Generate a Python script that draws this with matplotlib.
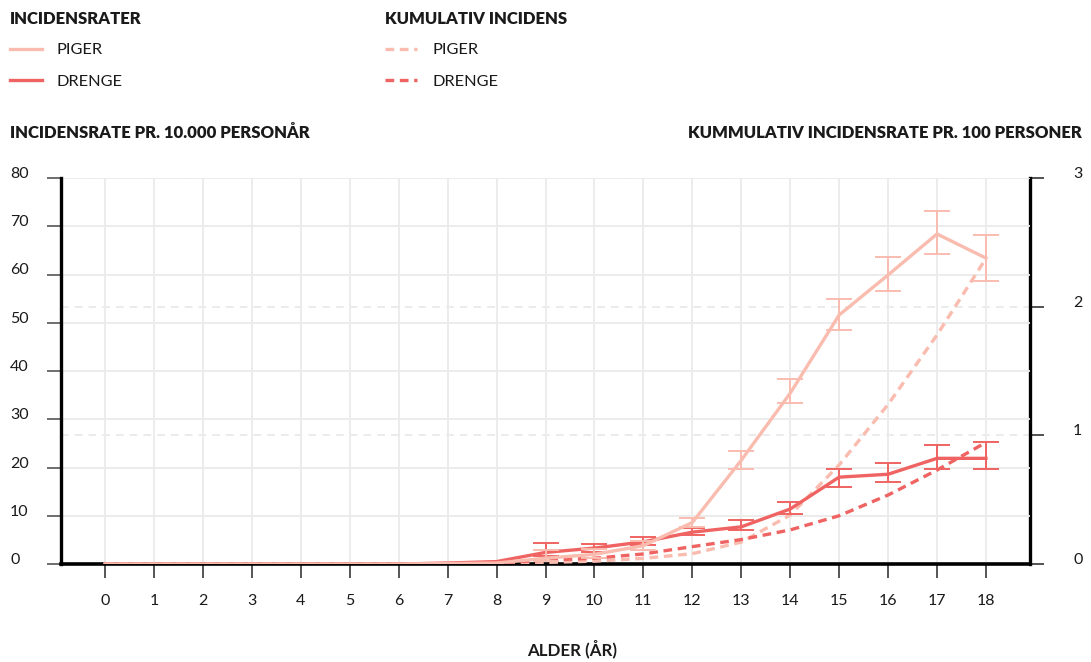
import matplotlib
matplotlib.use("Agg")
import matplotlib.pyplot as plt
from matplotlib.lines import Line2D

plt.rcParams['font.family'] = ['Lato', 'DejaVu Sans']

ages = list(range(19))
age_labels = [str(a) for a in ages]

piger_rate = [0, 0, 0, 0, 0, 0, 0, 0.1, 0.2, 1.2, 2.0, 3.8, 8.6, 21.5, 35.4, 51.6, 59.9, 68.4, 63.4]
piger_lo = [0, 0, 0, 0, 0, 0, 0, 0.1, 0.2, 0.6, 1.2, 3.0, 7.6, 19.7, 33.3, 48.5, 56.6, 64.3, 58.7]
piger_hi = [0, 0, 0, 0, 0, 0, 0, 0.1, 0.2, 2.9, 3.1, 4.7, 9.6, 23.4, 38.3, 54.9, 63.7, 73.2, 68.1]

drenge_rate = [0, 0, 0, 0, 0, 0, 0, 0.2, 0.5, 2.4, 3.3, 4.6, 6.6, 7.7, 11.4, 18.0, 18.6, 21.9, 21.9]
drenge_lo = [0, 0, 0, 0, 0, 0, 0, 0.2, 0.5, 1.6, 2.5, 3.9, 6.0, 7.0, 10.3, 16.0, 16.9, 19.7, 19.7]
drenge_hi = [0, 0, 0, 0, 0, 0, 0, 0.2, 0.5, 4.3, 4.2, 5.5, 7.4, 9.1, 12.9, 19.6, 20.9, 24.7, 25.2]

piger_cum = [0, 0, 0, 0, 0, 0, 0, 0.002, 0.005, 0.012, 0.022, 0.044, 0.08, 0.17, 0.38, 0.77, 1.24, 1.78, 2.375]
drenge_cum = [0, 0, 0, 0, 0, 0, 0, 0.003, 0.008, 0.03, 0.045, 0.078, 0.135, 0.19, 0.265, 0.375, 0.536, 0.73, 0.945]

left_ticks = [0, 10, 20, 30, 40, 50, 60, 70, 80]
right_ticks = [0, 1, 2, 3]
err_start = 9

PINK = '#F9BCAF'
RED = '#EF6462'
GRID = '#EBEBEB'
TXT = '#1a1a1a'

W, H = 1091, 662
fig = plt.figure(figsize=(W / 100, H / 100), dpi=100)
ax = fig.add_axes([61 / W, 1 - 564 / H, (1030 - 61) / W, (564 - 178) / H])
tw = ax.twinx()
ax.set_zorder(2)
tw.set_zorder(1)
ax.patch.set_visible(False)

ax.set_xlim(-0.9, 18.9)
ax.set_ylim(0, 80)
tw.set_ylim(0, 3)

# grids
ax.set_xticks(ages)
ax.set_xticklabels(age_labels)
ax.set_yticks(left_ticks)
ax.set_yticklabels([str(t) for t in left_ticks])
tw.set_yticks(right_ticks)
tw.set_yticklabels([str(t) for t in right_ticks])
ax.grid(True, color=GRID, lw=1.3, zorder=0)
tw.grid(True, axis='y', color='#E6E6E6', lw=1.1, ls=(0, (5, 4)))
ax.set_axisbelow(True)

# spines
for s in ['top', 'right']:
    ax.spines[s].set_visible(False)
for s in ['top', 'left', 'bottom']:
    tw.spines[s].set_visible(False)
ax.spines['left'].set_linewidth(2.4)
ax.spines['bottom'].set_linewidth(2.6)
tw.spines['right'].set_linewidth(2.4)
for sp in [ax.spines['left'], ax.spines['bottom'], tw.spines['right']]:
    sp.set_color('#000000')

ax.tick_params(axis='y', length=10, width=1.2, color='#555555', pad=26.6,
               labelsize=11.5, labelcolor=TXT)
ax.tick_params(axis='x', length=10, width=1.4, color='#555555', pad=11.5,
               labelsize=11.5, labelcolor=TXT)
tw.tick_params(axis='y', length=10, width=1.2, color='#333333', pad=21,
               labelsize=11.5, labelcolor=TXT)
for lab in ax.get_yticklabels():
    lab.set_ha('left')
    lab.set_va('baseline')
for lab in tw.get_yticklabels():
    lab.set_va('baseline')

# cumulative (dashed) lines drawn on the main axes using the right scale
dash = (0, (2.6, 1.7))
ax.plot(ages, piger_cum, color=PINK, lw=2.4, ls=dash, transform=tw.transData, zorder=3)
ax.plot(ages, drenge_cum, color=RED, lw=2.4, ls=dash, transform=tw.transData, zorder=3)

# incidence rate lines with error bars
ex = ages[err_start:]
for rate, lo, hi, col, z in [(drenge_rate, drenge_lo, drenge_hi, RED, 4),
                             (piger_rate, piger_lo, piger_hi, PINK, 5)]:
    r = rate[err_start:]
    yerr = [[a - b for a, b in zip(r, lo[err_start:])],
            [b - a for a, b in zip(r, hi[err_start:])]]
    ax.errorbar(ex, r, yerr=yerr, fmt='none', ecolor=col, elinewidth=1.4,
                capsize=9.5, capthick=1.4, zorder=z)
    ax.plot(ages, rate, color=col, lw=2.4, zorder=z, solid_joinstyle='miter')

# legend / headers
def head(x, y, s, ha='left'):
    fig.text(x / W, 1 - y / H, s, ha=ha, va='center', fontsize=12,
             fontweight='heavy', color=TXT)

head(10, 19, 'INCIDENSRATER')
head(385, 19, 'KUMULATIV INCIDENS')
entries = [(10, 49, PINK, '-', 'PIGER'), (10, 80, RED, '-', 'DRENGE'),
           (385, 49, PINK, dash, 'PIGER'), (385, 80, RED, dash, 'DRENGE')]
for x0, y0, col, ls, lbl in entries:
    fig.add_artist(Line2D([x0 / W, (x0 + 32) / W], [1 - y0 / H, 1 - y0 / H],
                          color=col, lw=2.4, ls=ls, transform=fig.transFigure))
    fig.text((x0 + 47) / W, 1 - (y0 + 1.5) / H, lbl, ha='left', va='center',
             fontsize=11.8, color=TXT)

head(10, 133, 'INCIDENSRATE PR. 10.000 PERSONÅR')
head(1082, 133, 'KUMMULATIV INCIDENSRATE PR. 100 PERSONER', ha='right')
fig.text(572 / W, 1 - 649 / H, 'ALDER (ÅR)', ha='center', va='center',
         fontsize=12.2, fontweight='bold', color=TXT)

fig.savefig('out.png', dpi=100, facecolor='white')
